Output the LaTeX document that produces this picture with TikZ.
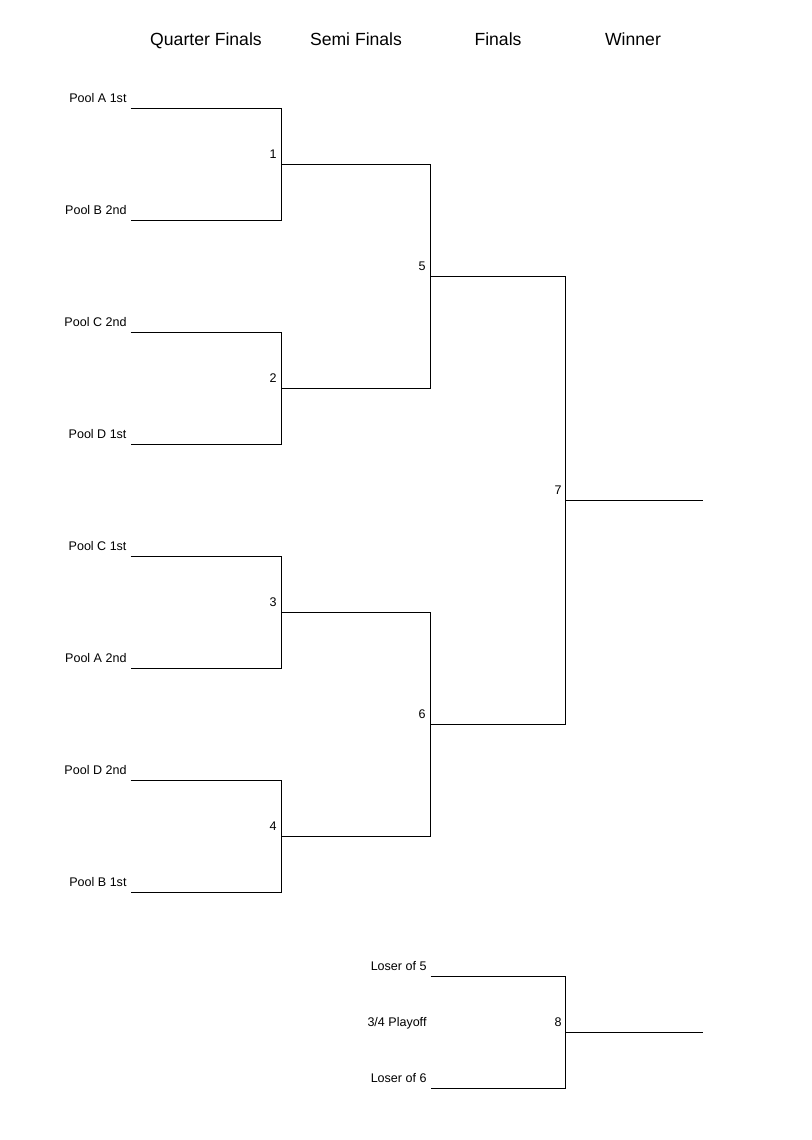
\documentclass[tikz,border=0pt]{standalone}
\usepackage{fontspec}
\setmainfont{Liberation Sans}
\begin{document}
\begin{tikzpicture}[x=0.75pt,y=-0.75pt,line width=0.75pt,
   head/.style={anchor=base,font=\fontsize{13.2}{15}\selectfont,inner sep=0pt},
   team/.style={anchor=base east,font=\fontsize{9.4}{11}\selectfont,inner sep=0pt},
   game/.style={anchor=base east,font=\fontsize{9.4}{11}\selectfont,inner sep=0pt}]

\useasboundingbox (0,0) rectangle (812,1140);

\node[head] (qf) at (206,45.5) {Quarter Finals};
\node[head] (sf) at (356,45.5) {Semi Finals};
\node[head] (fi) at (498,45.5) {Finals};
\node[head] (wi) at (633,45.5) {Winner};

\node[team] (tpa1) at (127,102.5) {Pool A 1st};
\node[team] (tpb2) at (127,214.5) {Pool B 2nd};
\node[team] (tpc2) at (127,326.5) {Pool C 2nd};
\node[team] (tpd1) at (127,438.5) {Pool D 1st};
\node[team] (tpc1) at (127,550.5) {Pool C 1st};
\node[team] (tpa2) at (127,662.5) {Pool A 2nd};
\node[team] (tpd2) at (127,774.5) {Pool D 2nd};
\node[team] (tpb1) at (127,886.5) {Pool B 1st};
\node[team] (tl5) at (427,970.5) {Loser of 5};
\node[team] (tpo) at (427,1026.5) {3/4 Playoff};
\node[team] (tl6) at (427,1082.5) {Loser of 6};

\node[game] (g1) at (277,158.5) {1};
\node[game] (g2) at (277,382.5) {2};
\node[game] (g3) at (277,606.5) {3};
\node[game] (g4) at (277,830.5) {4};
\node[game] (g5) at (426,270.5) {5};
\node[game] (g6) at (426,718.5) {6};
\node[game] (g7) at (562,494.5) {7};
\node[game] (g8) at (562,1026.5) {8};

\begin{scope}[shift={(0.5,0.5)}]
\coordinate (pa1) at (130,108);
\coordinate (pb2) at (130,220);
\coordinate (pc2) at (130,332);
\coordinate (pd1) at (130,444);
\coordinate (pc1) at (130,556);
\coordinate (pa2) at (130,668);
\coordinate (pd2) at (130,780);
\coordinate (pb1) at (130,892);
\coordinate (m1) at (281,164);
\coordinate (m2) at (281,388);
\coordinate (m3) at (281,612);
\coordinate (m4) at (281,836);
\coordinate (m5) at (430,276);
\coordinate (m6) at (430,724);
\coordinate (m7) at (565,500);
\coordinate (win) at (702,500);
\coordinate (l5) at (430,976);
\coordinate (l6) at (430,1088);
\coordinate (m8) at (565,1032);
\coordinate (third) at (702,1032);
\end{scope}

\draw (pa1) -| (m1) |- (pb2);
\draw (pc2) -| (m2) |- (pd1);
\draw (pc1) -| (m3) |- (pa2);
\draw (pd2) -| (m4) |- (pb1);
\draw (m1) -| (m5) |- (m2);
\draw (m3) -| (m6) |- (m4);
\draw (m5) -| (m7) |- (m6);
\draw (m7) -- (win);
\draw (l5) -| (m8) |- (l6);
\draw (m8) -- (third);

\end{tikzpicture}
\end{document}
